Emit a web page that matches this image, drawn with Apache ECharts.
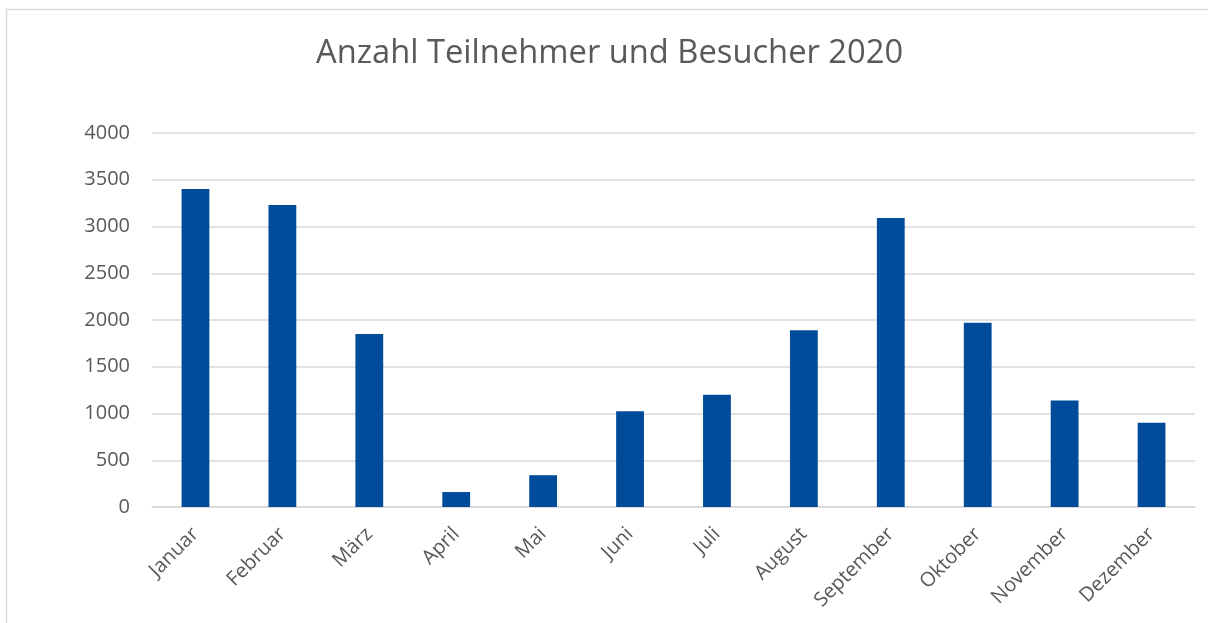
<!DOCTYPE html>
<html>
<head>
<meta charset="utf-8">
<script src="https://cdn.jsdelivr.net/npm/echarts@6/dist/echarts.min.js"></script>
<style>
html,body{margin:0;padding:0;background:#fff;}
#chart{width:1208px;height:623px;}
</style>
</head>
<body>
<div id="chart"></div>
<script>
const titleText = 'Anzahl Teilnehmer und Besucher 2020';
const categories = ['Januar','Februar','März','April','Mai','Juni','Juli','August','September','Oktober','November','Dezember'];
const values = [3400, 3230, 1850, 160, 340, 1025, 1200, 1890, 3090, 1970, 1140, 900];
const yTicks = [0, 500, 1000, 1500, 2000, 2500, 3000, 3500, 4000];

const chart = echarts.init(document.getElementById('chart'));
chart.setOption({
  animation: false,
  backgroundColor: '#ffffff',
  graphic: [{
    type: 'rect',
    shape: {x: 6.5, y: 9.5, width: 1300, height: 700},
    style: {fill: 'none', stroke: '#d9d9d9', lineWidth: 1.5},
    silent: true
  }],
  title: {
    text: titleText,
    left: 311,
    top: 32,
    textStyle: {fontFamily: 'Open Sans', fontSize: 32.7, fontWeight: 'normal', color: '#595959'}
  },
  grid: {left: 152, right: 13, top: 133, bottom: 116, containLabel: false},
  xAxis: {
    type: 'category',
    data: categories,
    axisLine: {show: true, lineStyle: {color: '#d9d9d9', width: 1.5}},
    axisTick: {show: false},
    axisLabel: {
      rotate: 45,
      interval: 0,
      margin: 24,
      fontFamily: 'Open Sans',
      fontSize: 20,
      color: '#595959'
    }
  },
  yAxis: {
    type: 'value',
    min: yTicks[0],
    max: yTicks[yTicks.length - 1],
    interval: yTicks[1] - yTicks[0],
    axisLine: {show: false},
    axisTick: {show: false},
    splitLine: {lineStyle: {color: '#d9d9d9', width: 1.5}},
    axisLabel: {
      margin: 22,
      fontFamily: 'Open Sans',
      fontSize: 20,
      color: '#595959',
      formatter: function (v) { return String(v); }
    }
  },
  series: [{
    type: 'bar',
    data: values,
    barWidth: '32%',
    itemStyle: {color: '#004C9B'}
  }]
});
</script>
</body>
</html>
